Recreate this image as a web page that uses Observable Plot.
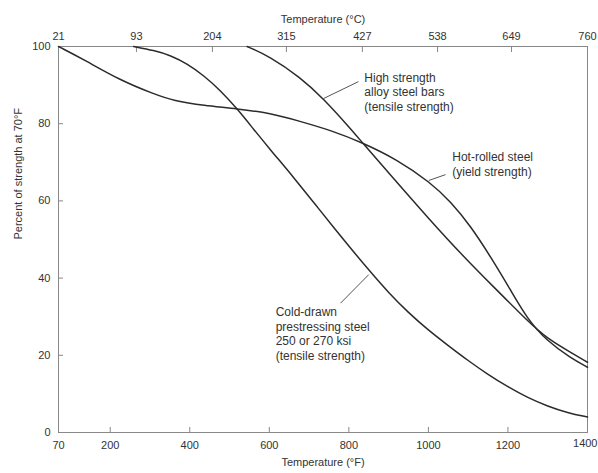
<!DOCTYPE html>
<html>
<head>
<meta charset="utf-8">
<script src="https://cdn.jsdelivr.net/npm/d3@7"></script>
<script src="https://cdn.jsdelivr.net/npm/@observablehq/plot@0.6"></script>
<style>
  html, body { margin: 0; padding: 0; background: #fff; }
</style>
</head>
<body>
<div id="chart"></div>
<script>
// ---- Data ----
// Cold-drawn prestressing steel 250 or 270 ksi (tensile strength)
const coldDrawnF   = [259, 310, 352, 394, 435, 477, 519, 561, 603, 662, 720, 790, 855, 900, 950, 1000, 1050, 1100, 1150, 1200, 1250, 1300, 1350, 1400];
const coldDrawnPct = [100, 99.0, 97.7, 95.5, 92.5, 88.6, 83.9, 78.5, 73.2, 66.0, 58.5, 49.5, 41.5, 36.2, 31.0, 26.5, 22.5, 18.6, 15.0, 11.8, 9.0, 6.8, 5.1, 4.0];
// Hot-rolled steel (yield strength)
const hotRolledF   = [70, 134, 226, 310, 360, 435, 519, 603, 678, 760, 834, 920, 1005, 1056, 1106, 1156, 1206, 1248, 1299, 1357, 1400];
const hotRolledPct = [100, 96.6, 91.2, 87.7, 85.9, 84.7, 83.9, 82.7, 80.6, 78.1, 75.1, 70.8, 64.8, 59.8, 53.5, 45.6, 37.0, 29.5, 23.6, 19.4, 16.9];
// High strength alloy steel bars (tensile strength)
const alloyF   = [544, 600, 678, 736, 800, 834, 900, 1005, 1089, 1173, 1248, 1299, 1357, 1400];
const alloyPct = [100, 97.5, 92.0, 86.5, 79.2, 75.1, 67.3, 54.9, 45.5, 36.8, 29.0, 24.3, 20.8, 18.2];

// Axis ticks
const yTicks = [0, 20, 40, 60, 80, 100];
const bottomTicks = [70, 200, 400, 600, 800, 1000, 1200, 1400];
const topTickLabels = ["21", "93", "204", "315", "427", "538", "649", "760"];
const topTickAt = [70, 266, 457, 643, 834, 1023, 1209, 1400]; // where the °C labels sit on the °F axis

// Annotations
const noteText = [
  "High strength\nalloy steel bars\n(tensile strength)",
  "Hot-rolled steel\n(yield strength)",
  "Cold-drawn\nprestressing steel\n250 or 270 ksi\n(tensile strength)"
];
const noteX = [839, 1060, 616];
const noteY = [88.3, 69.6, 25.7];
const leaderX1 = [824, 1043, 779];
const leaderY1 = [90.9, 66.8, 33.5];
const leaderX2 = [736, 1001, 850];
const leaderY2 = [86.5, 65.3, 40.9];

// ---- Build tables ----
const table = [
  ...coldDrawnF.map((x, i) => ({name: "cold", x, y: coldDrawnPct[i]})),
  ...hotRolledF.map((x, i) => ({name: "hot", x, y: hotRolledPct[i]})),
  ...alloyF.map((x, i) => ({name: "alloy", x, y: alloyPct[i]}))
];
const notes = noteText.map((t, i) => ({t, x: noteX[i], y: noteY[i]}));
const leaders = leaderX1.map((x1, i) => ({x1, y1: leaderY1[i], x2: leaderX2[i], y2: leaderY2[i]}));
const lastTick = bottomTicks[bottomTicks.length - 1];

const ink = "#333";
const gray = "#888";

const chart = Plot.plot({
  width: 598,
  height: 473,
  marginLeft: 58,
  marginRight: 11,
  marginTop: 46,
  marginBottom: 41,
  style: {fontFamily: "'Liberation Sans', Arial, Helvetica, sans-serif", fontSize: "11px", color: ink, background: "#fff"},
  x: {domain: [70, 1400]},
  y: {domain: [0, 100]},
  marks: [
    // ticks (inward)
    Plot.axisY({ticks: yTicks, tickSize: -5, tickFormat: () => "", stroke: gray, label: null}),
    Plot.axisX({anchor: "bottom", ticks: bottomTicks, tickSize: -5, tickFormat: () => "", stroke: gray, label: null}),
    Plot.axisX({anchor: "top", ticks: topTickAt, tickSize: -5, tickFormat: () => "", stroke: gray, label: null}),
    // tick labels
    Plot.axisY({ticks: yTicks, tickSize: 0, tickPadding: 8, label: null, fill: ink}),
    Plot.axisX({anchor: "bottom", ticks: bottomTicks.slice(0, -1), tickSize: 0, tickPadding: 9, label: null, fill: ink,
      tickFormat: (d) => String(d)}),
    Plot.text([lastTick], {x: (d) => d, frameAnchor: "bottom", dy: 14, dx: 10, textAnchor: "end", text: (d) => String(d), fill: ink}),
    Plot.axisX({anchor: "top", ticks: topTickAt, tickSize: 0, tickPadding: 7, label: null, fill: ink,
      tickFormat: (d) => topTickLabels[topTickAt.indexOf(d)]}),
    Plot.frame({stroke: gray}),
    // axis titles
    Plot.text(["Temperature (°C)"], {frameAnchor: "top", dy: -31, fill: ink}),
    Plot.text(["Temperature (°F)"], {frameAnchor: "bottom", dy: 33, fill: ink}),
    Plot.text(["Percent of strength at 70°F"], {frameAnchor: "left", dx: -40, rotate: -90, fill: ink}),
    // curves
    Plot.line(table, {x: "x", y: "y", z: "name", curve: "basis", stroke: "#2b2b2b", strokeWidth: 1.5}),
    // annotations
    Plot.link(leaders, {x1: "x1", y1: "y1", x2: "x2", y2: "y2", stroke: "#555", strokeWidth: 1}),
    Plot.text(notes, {x: "x", y: "y", text: "t", textAnchor: "start", lineAnchor: "middle", lineHeight: 1.2, fontSize: 12, fill: ink})
  ]
});

document.getElementById("chart").appendChild(chart);
</script>
</body>
</html>
